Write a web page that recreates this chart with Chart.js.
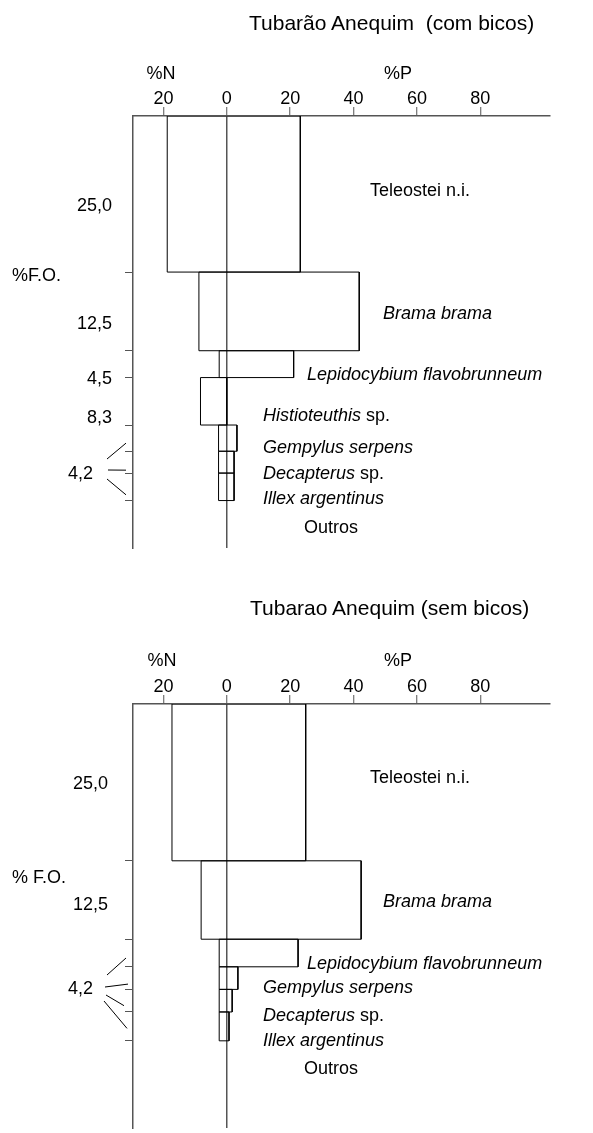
<!DOCTYPE html>
<html>
<head>
<meta charset="utf-8">
<script src="https://cdn.jsdelivr.net/npm/chart.js@4"></script>
<style>
  body { margin: 0; background: #fff; }
  #page { position: relative; width: 593px; height: 1133px; font-family: "Liberation Sans", Arial, sans-serif; color: #000; overflow: hidden; }
  canvas { position: absolute; left: 0; }
  .t { position: absolute; font-size: 18px; line-height: 20px; white-space: pre; }
  .title { font-size: 21px; line-height: 24px; }
</style>
</head>
<body>
<div id="page">
  <canvas id="chartTop" width="593" height="580" style="top:0"></canvas>
  <canvas id="chartBottom" width="593" height="553" style="top:580px"></canvas>
</div>
<script>
// x axis ticks (%N shown to the left of 0, %P to the right)
const xTicks = [-20, 0, 20, 40, 60, 80];

// Tubarão Anequim (com bicos)
const preyTop = ["Teleostei n.i.", "Brama brama", "Lepidocybium flavobrunneum", "Histioteuthis sp.",
  "Gempylus serpens", "Decapterus sp.", "Illex argentinus"];
const nTop = [18.8, 8.8, 2.4, 8.3, 2.6, 2.6, 2.6];      // %N
const pTop = [23.2, 41.8, 21.1, 0, 3.2, 2.3, 2.3];      // %P
const foTop = [25.0, 12.6, 4.3, 7.6, 4.2, 3.5, 4.4];    // %F.O.

// Tubarao Anequim (sem bicos)
const preyBottom = ["Teleostei n.i.", "Brama brama", "Lepidocybium flavobrunneum",
  "Gempylus serpens", "Decapterus sp.", "Illex argentinus"];
const nBottom = [17.3, 8.1, 2.4, 2.4, 2.4, 2.4];
const pBottom = [24.9, 42.4, 22.5, 3.5, 1.7, 0.7];
const foBottom = [25.0, 12.5, 4.4, 3.6, 3.6, 4.6];

Chart.defaults.font.family = '"Liberation Sans", Arial, sans-serif';
Chart.defaults.color = "#000";

function makeChart(id, prey, n, p, fo, yMax, padTop, padBottom, pointer) {
  let cum = 0;
  const bounds = [];
  const mids = [];
  const datasets = prey.map((name, i) => {
    const y0 = cum, y1 = cum + fo[i];
    cum = y1;
    bounds.push(y1);
    mids.push((y0 + y1) / 2);
    return {
      label: name,
      data: [
        { x: -n[i], y: y0 }, { x: p[i], y: y0 }, { x: p[i], y: y1 },
        { x: -n[i], y: y1 }, { x: -n[i], y: y0 }
      ],
      showLine: true,
      borderColor: "#000",
      borderWidth: 1,
      pointRadius: 0,
      fill: false,
      tension: 0
    };
  });

  // little slanted lines joining the shared "4,2" label to its bars
  const pointerPlugin = {
    id: "pointers",
    afterDraw(chart) {
      const ctx = chart.ctx;
      const ys = chart.scales.y;
      ctx.save();
      ctx.strokeStyle = "#000";
      ctx.lineWidth = 1;
      pointer.forEach(pt => {
        ctx.beginPath();
        ctx.moveTo(pt.x0, pt.y0);
        ctx.lineTo(pt.x1, ys.getPixelForValue(mids[pt.bar]) + pt.off);
        ctx.stroke();
      });
      ctx.restore();
    }
  };

  return new Chart(document.getElementById(id), {
    type: "scatter",
    data: { datasets },
    plugins: [pointerPlugin],
    options: {
      responsive: false,
      animation: false,
      layout: { padding: { left: 125, right: 43, top: padTop, bottom: padBottom } },
      plugins: { legend: { display: false }, tooltip: { enabled: false } },
      scales: {
        x: {
          type: "linear",
          position: "top",
          min: -29.6,
          max: 102,
          afterBuildTicks: s => { s.ticks = xTicks.map(v => ({ value: v })); },
          afterFit: s => { s.height = 30; },
          ticks: {
            callback: v => Math.abs(v),
            font: { size: 18 },
            color: "#000",
            padding: -3,
            maxRotation: 0,
            autoSkip: false
          },
          grid: {
            drawOnChartArea: true,
            color: c => (c.tick && c.tick.value === 0 ? "#555" : "rgba(0,0,0,0)"),
            lineWidth: 1.5,
            tickColor: "#555",
            tickWidth: 1,
            tickLength: 9
          },
          border: { color: "#555", width: 1.5 }
        },
        y: {
          type: "linear",
          position: "left",
          reverse: true,
          min: 0,
          max: yMax,
          afterBuildTicks: s => { s.ticks = bounds.map(v => ({ value: v })); },
          afterFit: s => { s.width = 8; },
          ticks: { display: false },
          grid: { drawOnChartArea: false, color: "#555", tickLength: 8 },
          border: { color: "#555", width: 1.5 }
        }
      }
    }
  });
}

makeChart("chartTop", preyTop, nTop, pTop, foTop, 69.2, 86, 32, [
  { x0: 107, y0: 459, x1: 126, bar: 4, off: 5 },
  { x0: 108, y0: 470, x1: 126, bar: 5, off: 8 },
  { x0: 107, y0: 479, x1: 126, bar: 6, off: 8 }
]);
makeChart("chartBottom", preyBottom, nBottom, pBottom, foBottom, 67.6, 94, 5, [
  { x0: 107, y0: 395, x1: 126, bar: 2, off: 5 },
  { x0: 105, y0: 407, x1: 128, bar: 3, off: 6 },
  { x0: 106, y0: 415, x1: 124, bar: 4, off: 5 },
  { x0: 104, y0: 421, x1: 127, bar: 5, off: 2 }
]);

// text labels: [html, x, centre y, align, extra class]
const texts = [
  ["Tubarão Anequim  (com bicos)", 249, 23, "left", "title"],
  ["%N", 161, 73, "center"], ["%P", 398, 73, "center"],
  ["25,0", 112, 205, "right"], ["%F.O.", 12, 275, "left"], ["12,5", 112, 323, "right"],
  ["4,5", 112, 378, "right"], ["8,3", 112, 417, "right"], ["4,2", 93, 473, "right"],
  ["Teleostei n.i.", 370, 190, "left"], ["<i>Brama brama</i>", 383, 313, "left"],
  ["<i>Lepidocybium flavobrunneum</i>", 307, 374, "left"], ["<i>Histioteuthis</i> sp.", 263, 415, "left"],
  ["<i>Gempylus serpens</i>", 263, 447, "left"], ["<i>Decapterus</i> sp.", 263, 473, "left"],
  ["<i>Illex argentinus</i>", 263, 498, "left"], ["Outros", 304, 527, "left"],

  ["Tubarao Anequim (sem bicos)", 250, 608, "left", "title"],
  ["%N", 162, 660, "center"], ["%P", 398, 660, "center"],
  ["25,0", 108, 783, "right"], ["% F.O.", 12, 877, "left"], ["12,5", 108, 904, "right"],
  ["4,2", 93, 988, "right"],
  ["Teleostei n.i.", 370, 777, "left"], ["<i>Brama brama</i>", 383, 901, "left"],
  ["<i>Lepidocybium flavobrunneum</i>", 307, 963, "left"], ["<i>Gempylus serpens</i>", 263, 987, "left"],
  ["<i>Decapterus</i> sp.", 263, 1015, "left"], ["<i>Illex argentinus</i>", 263, 1040, "left"],
  ["Outros", 304, 1068, "left"]
];

const page = document.getElementById("page");
texts.forEach(([html, x, y, align, cls]) => {
  const d = document.createElement("div");
  d.className = "t" + (cls ? " " + cls : "");
  d.innerHTML = html;
  const h = cls === "title" ? 24 : 20;
  d.style.top = (y - h / 2) + "px";
  if (align === "right") {
    d.style.right = (593 - x) + "px";
  } else {
    d.style.left = x + "px";
    if (align === "center") d.style.transform = "translateX(-50%)";
  }
  page.appendChild(d);
});
</script>
</body>
</html>
